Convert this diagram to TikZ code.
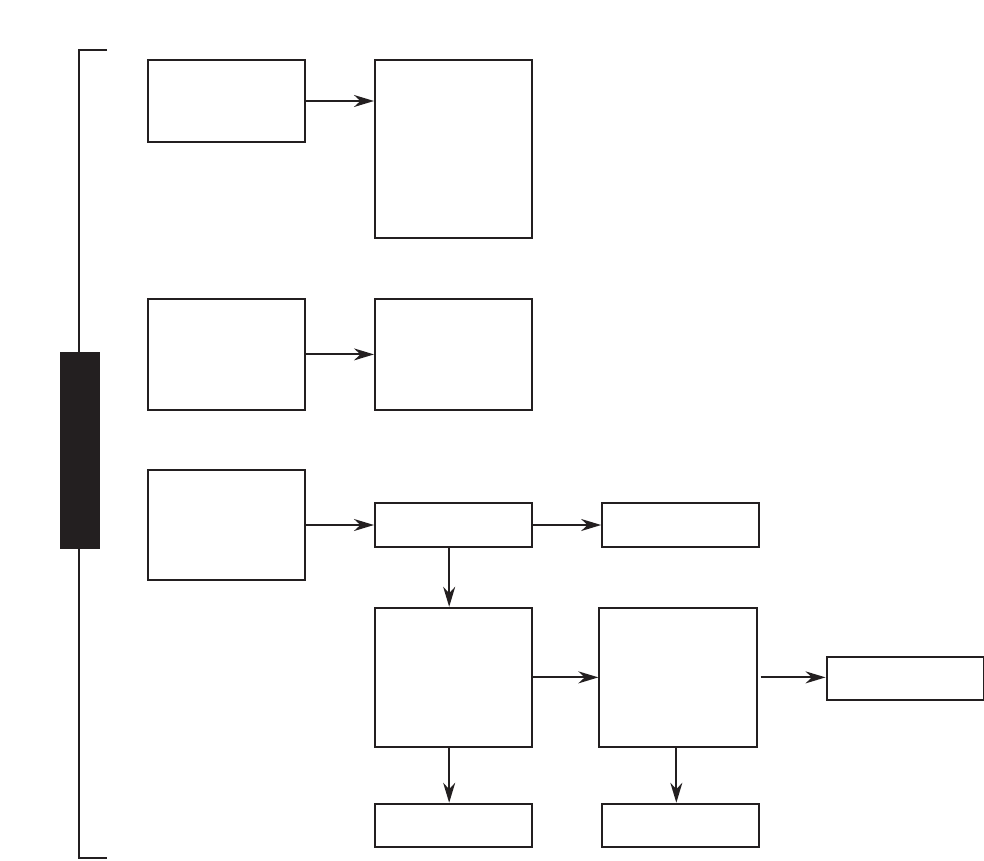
\documentclass[tikz,border=0pt]{standalone}
\usepackage{tikz}
\usetikzlibrary{arrows.meta,positioning,calc}
\definecolor{InkBlack}{RGB}{35,31,32}
\tikzset{
  box/.style={draw=InkBlack,line width=1.4pt,minimum width=3.93cm,
    inner sep=0pt,align=center},
  smallbox/.style={box,minimum height=1.08cm},
  arrow/.style={-{Stealth[length=5mm,width=3mm,inset=1.6mm]},
    line width=1.4pt,InkBlack},
  bracket/.style={draw=InkBlack,line width=1.4pt}
}
\begin{document}
\begin{tikzpicture}[node distance=1.70cm]
\useasboundingbox (0,0) rectangle (24.6,-21.5);

% left column
\node[box,minimum height=2.05cm] (a1) at (5.66,-2.525) {};
\node[box,minimum height=2.78cm] (a2) at (5.66,-8.86) {};
\node[box,minimum height=2.75cm] (a3) at (5.66,-13.125) {};

% second column
\node[box,minimum height=4.45cm,anchor=north west]
  (b1) at ($(a1.north east)+(1.70,0)$) {};
\node[box,minimum height=2.78cm,right=of a2] (b2) {};
\node[smallbox,right=of a3] (c1) {};
\node[smallbox,right=of c1] (c2) {};
\node[box,minimum height=3.48cm,below=1.48cm of c1] (d1) {};
\node[box,minimum height=3.48cm,right=1.63cm of d1] (d2) {};
\node[smallbox,right=of d2,yshift=-0.03cm] (e1) {};
\node[smallbox,below=1.37cm of d1] (f1) {};
\node[smallbox] (f2) at (c2 |- f1) {};

% bracket with bar
\coordinate (top) at (2.675,-1.25);
\coordinate (bottom) at (2.675,-21.45);
\draw[bracket] (top) -| (1.975,-21.45) -- (bottom);
\node[fill=InkBlack,minimum width=1cm,minimum height=4.93cm,inner sep=0pt]
  (bar) at (2.0,-11.26) {};

% connectors
\draw[arrow] (a1.east) -- (a1.east -| b1.west);
\draw[arrow] (a2) -- (b2);
\draw[arrow] (a3.east) -- (a3.east -| c1.west);
\draw[arrow] (c1) -- (c2);
\draw[arrow] ([xshift=-0.11cm]c1.south) -- ([xshift=-0.11cm]d1.north);
\draw[arrow] (d1) -- (d2);
\draw[arrow,shorten <=0.08cm] (d2.east) -- (d2.east -| e1.west);
\draw[arrow] ([xshift=-0.11cm]d1.south) -- ([xshift=-0.11cm]f1.north);
\draw[arrow] ([xshift=-0.04cm]d2.south) -- ([xshift=-0.04cm]d2.south |- f2.north);

\end{tikzpicture}
\end{document}
